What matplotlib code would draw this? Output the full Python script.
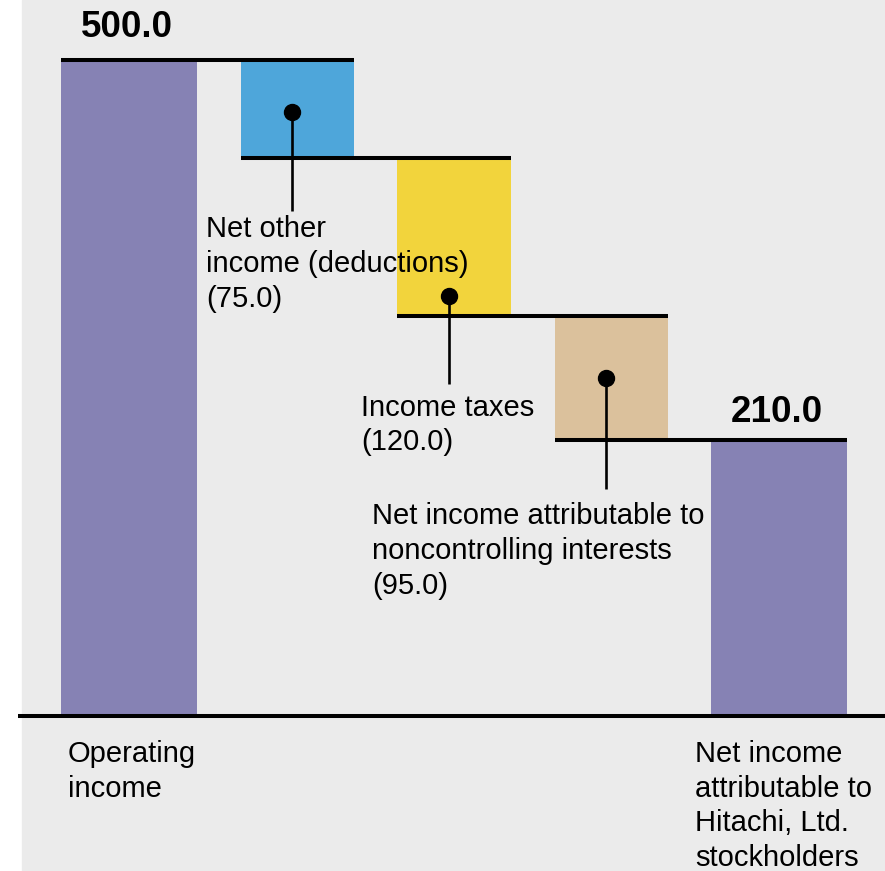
import matplotlib
matplotlib.use("Agg")
import matplotlib.pyplot as plt
from matplotlib.patches import Rectangle

# ---- data ----
categories = [
    "Operating\nincome",
    "Net other\nincome (deductions)",
    "Income taxes",
    "Net income attributable to\nnoncontrolling interests",
    "Net income\nattributable to\nHitachi, Ltd.\nstockholders",
]
values = [500.0, -75.0, -120.0, -95.0, 210.0]
kinds = ["total", "delta", "delta", "delta", "total"]
colors = ["#8682b4", "#4ea6da", "#f2d43c", "#dbc19c", "#8682b4"]

# ---- layout (pixels) ----
W, H = 885, 871
PX = 1.312          # pixels per unit
BASE = 716          # baseline pixel row from top
widths = [136, 113, 114, 113, 136]
start, gap = 61, 43.5
FONT = "Liberation Sans"
FS = 21
LS = 1.31
CAP = 0.73 * FS * 100 / 72   # approx. height of first line above its baseline (px)

fig = plt.figure(figsize=(W / 100, H / 100), dpi=100, facecolor="white")
ax = fig.add_axes([0, 0, 1, 1])
y0, y1 = -(H - BASE) / PX, BASE / PX
ax.set_xlim(0, W)
ax.set_ylim(y0, y1)
ax.axis("off")
ax.add_patch(Rectangle((22, y0), W - 22, y1 - y0, color="#ebebeb", zorder=0))

lefts = []
x = start
for w in widths:
    lefts.append(x)
    x += w + gap

bottoms, heights, levels = [], [], []
running = 0.0
for v, k in zip(values, kinds):
    if k == "total":
        bottoms.append(0.0)
        heights.append(v)
        running = v
    else:
        bottoms.append(running + v)
        heights.append(-v)
        running += v
    levels.append(running)

ax.bar(lefts, heights, width=widths, bottom=bottoms, align="edge",
       color=colors, zorder=2, linewidth=0)

# connector lines
for i in range(len(values) - 1):
    lvl = levels[i]
    ax.plot([lefts[i], lefts[i + 1] + widths[i + 1]], [lvl, lvl],
            color="black", lw=2.9, solid_capstyle="butt", zorder=3)

# baseline
ax.plot([18, W], [0, 0], color="black", lw=2.9, solid_capstyle="butt",
        zorder=3, clip_on=False)


def put_text(s, xy, dx, dy_first_baseline):
    """Left-aligned text whose first baseline lies dy px below xy."""
    ax.annotate(s, xy, xytext=(dx, -(dy_first_baseline - CAP)),
                textcoords="offset pixels", ha="left", va="top",
                fontsize=FS, family=FONT, linespacing=LS, zorder=4)


# totals: value label on top, category label below
value_offset = {0: 23, 4: 18}
cat_dx = {0: 7, 4: -16}
for i, (v, k) in enumerate(zip(values, kinds)):
    if k != "total":
        continue
    cx = lefts[i] + widths[i] / 2 - 2
    ax.annotate(f"{v:.1f}", (cx, v), xytext=(0, value_offset[i]),
                textcoords="offset pixels", ha="center", va="baseline",
                fontsize=26.5, fontweight="bold", family=FONT, zorder=4)
    put_text(categories[i], (lefts[i], 0), cat_dx[i], 45)

# deltas: dot + leader line + label
dot_frac = {1: 0.47, 2: 0.125, 3: 0.5}
drop_px = {1: 53, 2: 68, 3: 49}
text_dx = {1: -86, 2: -88, 3: -234}
text_dy = {1: 25, 2: 31, 3: 34}
for i, (v, k) in enumerate(zip(values, kinds)):
    if k != "delta":
        continue
    lx = lefts[i] + widths[i] / 2 - 5
    dy = bottoms[i] + dot_frac[i] * heights[i]
    end = bottoms[i] - drop_px[i] / PX
    ax.plot([lx, lx], [dy, end], color="black", lw=1.9, zorder=3,
            solid_capstyle="butt")
    ax.plot([lx], [dy], "o", color="black", ms=11.5, zorder=3)
    label = f"{categories[i]}\n({abs(v):.1f})"
    put_text(label, (lx, end), text_dx[i], text_dy[i])

fig.savefig("out.png", dpi=100, facecolor="white")
